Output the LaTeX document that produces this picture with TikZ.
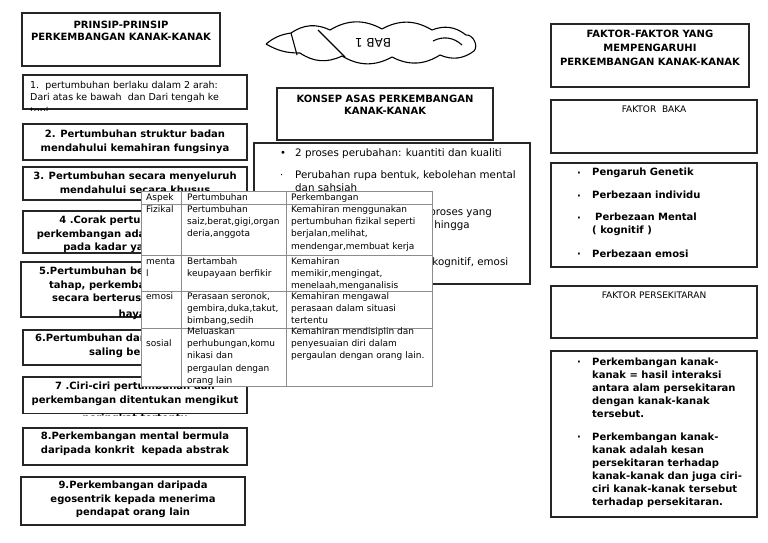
\documentclass[tikz,border=0pt]{standalone}
\usepackage{fontspec}
\setmainfont{DejaVu Sans}
\usetikzlibrary{positioning,fit}

\tikzset{
  kotak/.style={draw=black!85, line width=1.6pt, inner sep=0pt},
  kotaktebal/.style={kotak, line width=2.4pt},
  tajuk/.style={font=\fontsize{10}{12.5}\selectfont\bfseries, align=center, inner sep=0pt},
  prinsip/.style={font=\fontsize{10}{13.5}\selectfont\bfseries, align=center, inner sep=0pt},
  biasa/.style={font=\fontsize{10.3}{13}\selectfont, align=left, inner sep=0pt, anchor=north west},
  tebal/.style={font=\fontsize{10}{13}\selectfont\bfseries, align=left, inner sep=0pt, anchor=north west},
  titik/.style={inner sep=0pt, anchor=base west},
  sel/.style={font=\fontsize{9}{12.1}\selectfont, align=left, inner sep=0pt, anchor=north west},
  garis/.style={draw=black!45, line width=0.8pt},
  awan/.style={draw, line width=1.1pt},
}

\begin{document}
\begin{tikzpicture}[x=1pt, y=-1pt]
\useasboundingbox[fill=white] (0,0) rectangle (768,543);

% lajur kiri : prinsip
\node[kotak, fit={(22,13) (220,66)}] (pa) {};
\node[tajuk, below=8.3pt of pa.north] (pat) {PRINSIP-PRINSIP\\PERKEMBANGAN KANAK-KANAK};

\node[kotak, fit={(23,75) (247,109)}] (p1) {};
\begin{scope}
\clip ([shift={(0.8pt,-0.8pt)}]p1.south west) rectangle ([shift={(-0.8pt,0.8pt)}]p1.north east);
\node[font=\fontsize{9.5}{12}\selectfont, align=left, inner sep=0pt, anchor=north west] (p1t) at (30,81)
  {1.\ \ pertumbuhan berlaku dalam 2 arah:\\Dari atas ke bawah\ \ dan Dari tengah ke\\[2.5pt]tepi};
\end{scope}

\node[kotak, fit={(23,124) (247,160)}] (p2) {};
\node[prinsip, below=6.9pt of p2.north] (p2t) {2. Pertumbuhan struktur badan\\mendahului kemahiran fungsinya};

\node[kotak, fit={(23,167) (247,200)}] (p3) {};
\node[prinsip, below=5.9pt of p3.north] (p3t) {3. Pertumbuhan secara menyeluruh\\mendahului secara khusus};

\node[kotak, fit={(23,211) (247,253)}] (p4) {};
\begin{scope}
\clip ([shift={(0.8pt,-0.8pt)}]p4.south west) rectangle ([shift={(-0.8pt,0.8pt)}]p4.north east);
\node[prinsip, below=5.9pt of p4.north] (p4t) {4 .Corak pertumbuhan dan\\perkembangan adalah sama tetapi\\pada kadar yang berbeza};
\end{scope}

\node[kotaktebal, fit={(21,262) (248,317)}] (p5) {};
\begin{scope}
\clip ([shift={(1.2pt,-1.2pt)}]p5.south west) rectangle ([shift={(-1.2pt,1.2pt)}]p5.north east);
\node[prinsip, below=5.9pt of p5.north] (p5t) {5.Pertumbuhan berlaku mengikut\\tahap, perkembangan berlaku\\secara berterusan sepanjang\\[2pt]hayat};
\end{scope}

\node[kotak, fit={(23,330) (247,365)}] (p6) {};
\node[prinsip, below=4.9pt of p6.north] (p6t) {6.Pertumbuhan dan perkembangan\\saling berkaitan};

\node[kotak, fit={(23,377) (247,413.5)}] (p7) {};
\begin{scope}
\clip ([shift={(0.8pt,-0.8pt)}]p7.south west) rectangle ([shift={(-0.8pt,0.8pt)}]p7.north east);
\node[prinsip, font=\fontsize{10}{14}\selectfont\bfseries, below=5.9pt of p7.north] (p7t) {7 .Ciri-ciri pertumbuhan dan\\perkembangan ditentukan mengikut\\[3.5pt]peringkat tertentu};
\end{scope}

\node[kotak, fit={(23,428) (247,465)}] (p8) {};
\node[prinsip, below=4.9pt of p8.north] (p8t) {8.Perkembangan mental bermula\\daripada konkrit\ \ kepada abstrak};

\node[kotak, fit={(21,477) (245,525)}] (p9) {};
\node[prinsip, below=4.9pt of p9.north] (p9t) {9.Perkembangan daripada\\egosentrik kepada menerima\\pendapat orang lain};

% awan BAB 1
\draw[awan] (266,44) to[bend left=15] (291,33) to[bend left=30] (330,30) to[bend left=30] (382,29)
  to[bend left=30] (432,30) to[bend left=30] (466,35) to[bend left=70] (474,51)
  to[bend left=30] (440,55) to[bend left=30] (392,57) to[bend left=30] (342,56)
  to[bend left=30] (300,53) to[bend left=15] (266,44);
\draw[awan] (291,33) -- (297,55);
\draw[awan] (318,30) -- (345,57);
\draw[awan] (433,41) to[bend left=35] (462,45);
\node[rotate=180, font=\fontsize{12}{14}\selectfont] (babt) at (373,43) {BAB 1};

% lajur tengah : konsep asas
\node[kotak, fit={(277,88) (493,140)}] (ka) {};
\node[tajuk, below=7.3pt of ka.north] (kat) {KONSEP ASAS PERKEMBANGAN\\KANAK-KANAK};

\node[kotaktebal, fit={(254,143) (530,284)}] (ki) {};
\node[titik] (kb1) at (280,156) {•};
\node[biasa] (k1) at (295,148) {2 proses perubahan: kuantiti dan kualiti};
\node[titik] (kb2) at (280,178) {·};
\node[biasa] (k2) at (295,170) {Perubahan rupa bentuk, kebolehan mental\\dan sahsiah};
\node[titik] (kb3) at (280,215) {·};
\node[biasa] (k3) at (295,207) {Perkembangan ialah satu proses yang\\berterusan sejak dari lahir hingga\\dewasa};
\node[titik] (kb4) at (280,265) {·};
\node[biasa] (k4) at (295,257) {Merangkumi aspek fizikal, kognitif, emosi\\dan sosial};

% lajur kanan : faktor
\node[kotak, fit={(551,24) (749,87)}] (fa) {};
\node[font=\fontsize{10}{14}\selectfont\bfseries, align=center, inner sep=0pt, below=6.3pt of fa.north] (fat)
  {FAKTOR-FAKTOR YANG\\MEMPENGARUHI\\PERKEMBANGAN KANAK-KANAK};

\node[kotak, fit={(551,100) (757,153)}] (fb) {};
\node[font=\fontsize{9}{11}\selectfont, inner sep=0pt, below=6.7pt of fb.north] (fbt) {FAKTOR\ \ BAKA};

\node[kotaktebal, fit={(551,163) (757,267)}] (fg) {};
\node[titik, font=\bfseries] (gb1) at (577,176) {·};
\node[tebal] (g1) at (592,168.2) {Pengaruh Genetik};
\node[titik, font=\bfseries] (gb2) at (577,199) {·};
\node[tebal] (g2) at (592,191.2) {Perbezaan individu};
\node[titik, font=\bfseries] (gb3) at (577,221) {·};
\node[tebal] (g3) at (592,213.2) {\hspace{3pt}Perbezaan Mental\\( kognitif )};
\node[titik, font=\bfseries] (gb4) at (577,257) {·};
\node[tebal] (g4) at (592,249.2) {Perbezaan emosi};

\node[kotak, fit={(551,286) (757,338)}] (fp) {};
\node[font=\fontsize{9}{11}\selectfont, inner sep=0pt, below=6.7pt of fp.north] (fpt) {FAKTOR PERSEKITARAN};

\node[kotaktebal, fit={(551,351) (757,517)}] (fs) {};
\node[titik, font=\bfseries] (sb1) at (577,365) {·};
\node[tebal] (s1) at (592,357.2) {Perkembangan kanak-\\kanak = hasil interaksi\\antara alam persekitaran\\dengan kanak-kanak\\tersebut.};
\node[titik, font=\bfseries] (sb2) at (577,440) {·};
\node[tebal] (s2) at (592,432.2) {Perkembangan kanak-\\kanak adalah kesan\\persekitaran terhadap\\kanak-kanak dan juga ciri-\\ciri kanak-kanak tersebut\\terhadap persekitaran.};

% jadual aspek
\node[fill=white, inner sep=0pt, fit={(141.5,192) (432,386)}] (jadual) {};
\draw[garis] (jadual.north west) rectangle (jadual.south east);
\foreach \y in {204,255,291,328}
  \draw[garis] (141.5,\y) -- (432,\y);
\foreach \x in {181,286}
  \draw[garis] (\x,192) -- (\x,386);

\node[sel] (a0) at (146,193.7) {Aspek};
\node[sel] (b0) at (187,193.7) {Pertumbuhan};
\node[sel] (c0) at (291,193.7) {Perkembangan};

\node[sel] (a1) at (146,205.7) {Fizikal};
\node[sel] (b1) at (187,205.7) {Pertumbuhan\\saiz,berat,gigi,organ\\deria,anggota};
\node[sel] (c1) at (291,205.7) {Kemahiran menggunakan\\pertumbuhan fizikal seperti\\berjalan,melihat,\\mendengar,membuat kerja};

\node[sel] (a2) at (146,257.7) {menta\\l};
\node[sel] (b2) at (187,257.7) {Bertambah\\keupayaan berfikir};
\node[sel] (c2) at (291,257.7) {Kemahiran\\memikir,mengingat,\\menelaah,menganalisis};

\node[sel] (a3) at (146,292.7) {emosi};
\node[sel] (b3) at (187,292.7) {Perasaan seronok,\\gembira,duka,takut,\\bimbang,sedih};
\node[sel] (c3) at (291,292.7) {Kemahiran mengawal\\perasaan dalam situasi\\tertentu};

\node[sel] (a4) at (146,339.7) {sosial};
\node[sel] (b4) at (187,327.7) {Meluaskan\\perhubungan,komu\\nikasi dan\\pergaulan dengan\\orang lain};
\node[sel] (c4) at (291,327.7) {Kemahiran mendisiplin dan\\penyesuaian diri dalam\\pergaulan dengan orang lain.};

\end{tikzpicture}
\end{document}
